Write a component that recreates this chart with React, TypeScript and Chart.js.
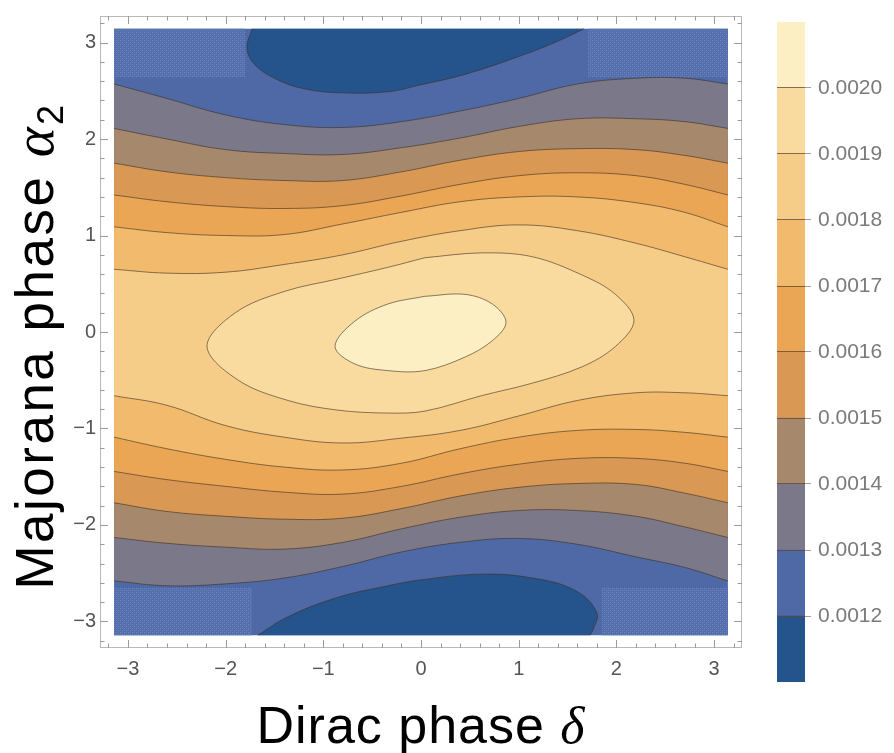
import React, { useEffect, useRef } from 'react';
import { Chart, registerables } from 'chart.js';

Chart.register(...registerables);

const PI = 3.1416;

// shared x samples of the wavy contour lines (Dirac phase δ)
const xGrid = [-PI, -2.6, -2.0, -1.4, -0.8, -0.2, 0.4, 1.0, 1.6, 2.2, 2.7, PI];

// upper branches (α2 > 0) of the contours 0.0013 ... 0.0018
const upper13 = [2.57, 2.42, 2.25, 2.15, 2.12, 2.18, 2.29, 2.42, 2.57, 2.63, 2.63, 2.57];
const upper14 = [2.11, 2.0, 1.89, 1.85, 1.84, 1.91, 2.01, 2.13, 2.21, 2.21, 2.18, 2.11];
const upper15 = [1.75, 1.66, 1.6, 1.57, 1.57, 1.66, 1.78, 1.87, 1.9, 1.89, 1.83, 1.75];
const upper16 = [1.42, 1.35, 1.3, 1.28, 1.31, 1.41, 1.53, 1.62, 1.65, 1.62, 1.53, 1.42];
const upper17 = [1.09, 1.03, 1.0, 1.01, 1.12, 1.24, 1.35, 1.4, 1.4, 1.34, 1.24, 1.09];
const upper18 = [0.65, 0.61, 0.62, 0.7, 0.8, 0.94, 1.05, 1.11, 1.05, 0.92, 0.78, 0.65];

// lower branches (α2 < 0)
const lower13 = [-2.58, -2.63, -2.61, -2.55, -2.43, -2.28, -2.18, -2.14, -2.2, -2.33, -2.44, -2.58];
const lower14 = [-2.13, -2.19, -2.23, -2.25, -2.18, -2.04, -1.92, -1.85, -1.85, -1.91, -2.02, -2.13];
const lower15 = [-1.77, -1.86, -1.91, -1.94, -1.93, -1.83, -1.7, -1.61, -1.57, -1.58, -1.67, -1.77];
const lower16 = [-1.445, -1.53, -1.6, -1.66, -1.68, -1.6, -1.47, -1.37, -1.31, -1.31, -1.36, -1.445];
const lower17 = [-1.09, -1.21, -1.32, -1.4, -1.43, -1.36, -1.21, -1.09, -1.02, -1.01, -1.04, -1.09];
const lower18 = [-0.66, -0.76, -0.97, -1.09, -1.15, -1.1, -1.02, -0.87, -0.71, -0.63, -0.63, -0.66];

// closed contour 0.0019
const loop19X = [0.04, 0.62, 1.14, 1.65, 1.99, 2.18, 1.99, 1.65, 1.14, 0.62, 0.04, -0.34, -0.85, -1.36, -1.87, -2.19, -1.9, -1.4, -0.85, -0.34, 0.04];
const loop19Y = [0.77, 0.82, 0.78, 0.59, 0.39, 0.12, -0.15, -0.36, -0.53, -0.66, -0.82, -0.84, -0.81, -0.71, -0.5, -0.15, 0.2, 0.42, 0.55, 0.67, 0.77];

// closed contour 0.0020
const loop20X = [0.04, 0.45, 0.73, 0.87, 0.73, 0.45, 0.04, -0.34, -0.68, -0.88, -0.68, -0.34, 0.04];
const loop20Y = [0.37, 0.39, 0.29, 0.1, -0.09, -0.26, -0.4, -0.4, -0.33, -0.15, 0.11, 0.29, 0.37];

// 0.0012 contours (dark blue pockets at top and bottom)
const topBlobX = [-1.73, -1.78, -1.7, -1.46, -1.19, -0.85, -0.34, -0.01, 0.45, 0.96, 1.37, 1.67];
const topBlobY = [PI, 2.94, 2.77, 2.61, 2.52, 2.48, 2.49, 2.56, 2.67, 2.84, 3.0, PI];
const botBlobX = [-1.67, -1.36, -0.85, -0.34, -0.01, 0.62, 1.14, 1.58, 1.8, 1.76, 1.73];
const botBlobY = [-PI, -2.95, -2.75, -2.63, -2.57, -2.51, -2.55, -2.68, -2.91, -3.09, -PI];

// plot domain [x0, x1, y0, y1]
const domain = [-PI, PI, -PI, PI];

// dotted corner patches [x0, x1, y0, y1]
const patchTL = [-PI, -1.8, 2.64, PI];
const patchTR = [1.71, PI, 2.64, PI];
const patchBL = [-PI, -1.73, -PI, -2.65];
const patchBR = [1.85, PI, -PI, -2.65];

// colour bar
const cbLevels = [0.0011, 0.0012, 0.0013, 0.0014, 0.0015, 0.0016, 0.0017, 0.0018, 0.0019, 0.002, 0.0021];
const cbTickValues = [0.0012, 0.0013, 0.0014, 0.0015, 0.0016, 0.0017, 0.0018, 0.0019, 0.002];
const bandColors = ['#25538c', '#4e69a6', '#7b788a', '#a6886d', '#d99853', '#eaa655', '#f1ba6d', '#f6cc89', '#fadb9f', '#fdefc4'];

const axisTicks = [-3, -2, -1, 0, 1, 2, 3];

const SANS = '"Liberation Sans", Arial, Helvetica, sans-serif';
const SERIF = '"Liberation Serif", "Times New Roman", serif';
const LINE = 'rgba(62,46,30,0.6)';

const pts = (xs: number[], ys: number[]) => xs.map((x, i) => ({ x, y: ys[i] }));
const rect = (r: number[]) => [
  { x: r[0], y: r[2] }, { x: r[1], y: r[2] }, { x: r[1], y: r[3] }, { x: r[0], y: r[3] },
];
const fmtTick = (v: number) => String(v).replace('-', '\u2212');

function makeHatch(): CanvasPattern | string {
  const c = document.createElement('canvas');
  c.width = 4;
  c.height = 4;
  const g = c.getContext('2d');
  if (!g) return '#5571ad';
  g.fillStyle = '#5370ad';
  g.fillRect(0, 0, 4, 4);
  g.fillStyle = 'rgba(122,142,198,0.75)';
  g.fillRect(0, 0, 1, 1);
  g.fillRect(2, 2, 1, 1);
  g.fillStyle = 'rgba(110,130,190,0.45)';
  g.fillRect(2, 0, 1, 1);
  g.fillRect(0, 2, 1, 1);
  return g.createPattern(c, 'repeat') || '#5571ad';
}

const framePlugin = {
  id: 'frameTicks',
  afterDatasetsDraw(chart: any) {
    const { ctx, chartArea: a, scales } = chart;
    const sx = scales.x;
    const sy = scales.y;
    ctx.save();
    ctx.strokeStyle = '#b9b9b9';
    ctx.lineWidth = 1;
    ctx.strokeRect(a.left + 0.5, a.top + 0.5, a.right - a.left - 1, a.bottom - a.top - 1);
    ctx.strokeStyle = '#9a9a9a';
    const minor: number[] = [];
    for (let i = -16; i <= 16; i++) if (i % 5 !== 0) minor.push(i / 5);
    const mark = (v: number, len: number) => {
      const px = Math.round(sx.getPixelForValue(v)) + 0.5;
      const py = Math.round(sy.getPixelForValue(v)) + 0.5;
      ctx.beginPath();
      ctx.moveTo(px, a.top); ctx.lineTo(px, a.top + len);
      ctx.moveTo(px, a.bottom); ctx.lineTo(px, a.bottom - len);
      ctx.moveTo(a.left, py); ctx.lineTo(a.left + len, py);
      ctx.moveTo(a.right, py); ctx.lineTo(a.right - len, py);
      ctx.stroke();
    };
    axisTicks.forEach((v) => mark(v, 8));
    minor.forEach((v) => mark(v, 4.5));
    ctx.restore();
  },
};

const titlePlugin = {
  id: 'axisTitles',
  afterDraw(chart: any) {
    const { ctx, chartArea: a } = chart;
    ctx.save();
    ctx.fillStyle = '#000';
    ctx.textAlign = 'left';
    ctx.textBaseline = 'alphabetic';
    // x title
    const xs = 52;
    (ctx as any).letterSpacing = '1px';
    ctx.font = `${xs}px ${SANS}`;
    const xMain = 'Dirac phase ';
    const w1 = ctx.measureText(xMain).width;
    ctx.font = `italic ${xs}px ${SERIF}`;
    const w2 = ctx.measureText('\u03b4').width;
    const x0 = (a.left + a.right) / 2 - (w1 + w2) / 2;
    ctx.font = `${xs}px ${SANS}`;
    ctx.fillText(xMain, x0, 743);
    ctx.font = `italic ${xs}px ${SERIF}`;
    ctx.fillText('\u03b4', x0 + w1, 743);
    // y title
    const ys = 53;
    ctx.translate(53, 346);
    ctx.rotate(-Math.PI / 2);
    (ctx as any).letterSpacing = '2.5px';
    ctx.font = `${ys}px ${SANS}`;
    const yMain = 'Majorana phase ';
    const m1 = ctx.measureText(yMain).width;
    ctx.font = `italic ${ys + 4}px ${SERIF}`;
    const m2 = ctx.measureText('\u03b1').width;
    ctx.font = `${Math.round(ys * 0.68)}px ${SANS}`;
    const m3 = ctx.measureText('2').width;
    const total = m1 + m2 + m3;
    const y0 = -total / 2;
    ctx.font = `${ys}px ${SANS}`;
    ctx.fillText(yMain, y0, 0);
    ctx.font = `italic ${ys + 4}px ${SERIF}`;
    ctx.fillText('\u03b1', y0 + m1, 0);
    ctx.font = `${Math.round(ys * 0.68)}px ${SANS}`;
    ctx.fillText('2', y0 + m1 + m2, 10);
    ctx.restore();
  },
};

export default function App() {
  const mainRef = useRef<HTMLCanvasElement>(null);
  const cbRef = useRef<HTMLCanvasElement>(null);

  useEffect(() => {
    if (!mainRef.current || !cbRef.current) return;
    const hatch = makeHatch();
    const datasets: any[] = [];
    const base = { pointRadius: 0, pointHoverRadius: 0 };

    datasets.push({ ...base, data: rect(domain), fill: 'shape', backgroundColor: bandColors[1], borderWidth: 0, tension: 0, order: 100 });
    [patchTL, patchTR, patchBL, patchBR].forEach((r) => {
      datasets.push({ ...base, data: rect(r), fill: 'shape', backgroundColor: hatch, borderWidth: 0, tension: 0, order: 99 });
    });
    datasets.push({ ...base, data: pts(topBlobX, topBlobY), fill: 'shape', backgroundColor: bandColors[0], borderColor: LINE, borderWidth: 1, tension: 0.4, order: 98 });
    datasets.push({ ...base, data: pts(botBlobX, botBlobY), fill: 'shape', backgroundColor: bandColors[0], borderColor: LINE, borderWidth: 1, tension: 0.4, order: 98 });

    const pairs = [
      [upper13, lower13], [upper14, lower14], [upper15, lower15],
      [upper16, lower16], [upper17, lower17], [upper18, lower18],
    ];
    pairs.forEach(([u, l], k) => {
      const iU = datasets.length;
      datasets.push({ ...base, data: pts(xGrid, u), fill: iU + 1, backgroundColor: bandColors[k + 2], borderColor: LINE, borderWidth: 1, tension: 0.4, order: 90 - k });
      datasets.push({ ...base, data: pts(xGrid, l), fill: false, borderColor: LINE, borderWidth: 1, tension: 0.4, order: 1 });
    });
    datasets.push({ ...base, data: pts(loop19X, loop19Y), fill: 'shape', backgroundColor: bandColors[8], borderColor: LINE, borderWidth: 1, tension: 0.35, order: 80 });
    datasets.push({ ...base, data: pts(loop20X, loop20Y), fill: 'shape', backgroundColor: bandColors[9], borderColor: LINE, borderWidth: 1, tension: 0.35, order: 79 });

    const tickFont = { family: SANS, size: 20 };
    const main = new Chart(mainRef.current, {
      type: 'line',
      data: { datasets },
      options: {
        animation: false,
        responsive: false,
        devicePixelRatio: 1,
        events: [],
        layout: { padding: { left: 0, top: 8, right: 152, bottom: 0 } },
        plugins: { legend: { display: false }, tooltip: { enabled: false } },
        scales: {
          x: {
            type: 'linear', min: -3.286, max: 3.286,
            afterBuildTicks: (s: any) => { s.ticks = axisTicks.map((v) => ({ value: v })); },
            afterFit: (s: any) => { s.height = 105; },
            grid: { display: false, drawTicks: false },
            border: { display: false },
            ticks: { padding: 9, color: '#555', font: tickFont, maxRotation: 0, autoSkip: false, callback: (v: any) => fmtTick(v) },
          },
          y: {
            type: 'linear', min: -3.275, max: 3.275,
            afterBuildTicks: (s: any) => { s.ticks = axisTicks.map((v) => ({ value: v })); },
            afterFit: (s: any) => { s.width = 100; },
            grid: { display: false, drawTicks: false },
            border: { display: false },
            ticks: { padding: 4, color: '#555', font: tickFont, autoSkip: false, callback: (v: any) => fmtTick(v) },
          },
        },
      } as any,
      plugins: [framePlugin, titlePlugin],
    });

    const cbDatasets = bandColors.map((c, i) => ({
      data: [[cbLevels[i], cbLevels[i + 1]]],
      backgroundColor: c,
      borderWidth: 0,
      grouped: false,
      barPercentage: 1,
      categoryPercentage: 1,
    }));
    const cb = new Chart(cbRef.current, {
      type: 'bar',
      data: { labels: ['scale'], datasets: cbDatasets as any },
      options: {
        animation: false,
        responsive: false,
        devicePixelRatio: 1,
        events: [],
        layout: { padding: { left: 35, top: 22, right: 0, bottom: 71 } },
        plugins: { legend: { display: false }, tooltip: { enabled: false } },
        scales: {
          x: { type: 'category', display: false },
          y: {
            type: 'linear', position: 'right', min: cbLevels[0], max: cbLevels[cbLevels.length - 1],
            afterBuildTicks: (s: any) => { s.ticks = cbTickValues.map((v) => ({ value: v })); },
            afterFit: (s: any) => { s.width = 89; },
            grid: { drawOnChartArea: true, color: 'rgba(95,70,45,0.75)', tickColor: '#a0a0a0', tickLength: 6, z: 1 },
            border: { display: false },
            ticks: { padding: 7, color: '#7a7a7a', font: { family: SANS, size: 21 }, callback: (v: any) => Number(v).toFixed(4) },
          },
        },
      } as any,
    });

    return () => { main.destroy(); cb.destroy(); };
  }, []);

  return (
    <div style={{ position: 'absolute', left: 0, top: 0, width: 894, height: 753, background: '#fff' }}>
      <canvas ref={mainRef} width={894} height={753} style={{ position: 'absolute', left: 0, top: 0, width: 894, height: 753 }} />
      <canvas ref={cbRef} width={152} height={753} style={{ position: 'absolute', left: 742, top: 0, width: 152, height: 753 }} />
    </div>
  );
}
